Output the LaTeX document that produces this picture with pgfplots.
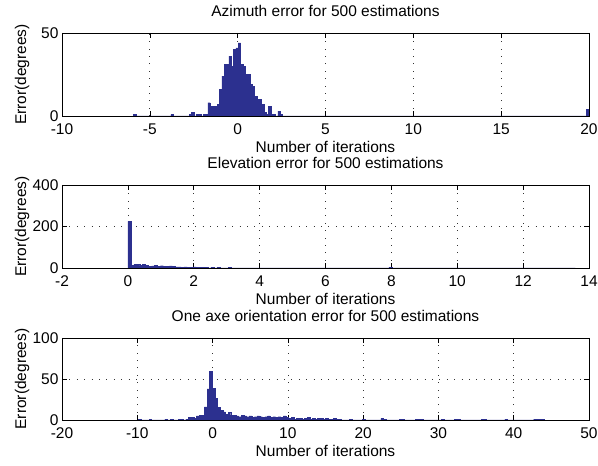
\documentclass[border=0pt]{standalone}
\usepackage{pgfplots}
\pgfplotsset{compat=1.18}
\usepackage{fontspec}
\setmainfont{Liberation Sans}
\definecolor{barfill}{RGB}{44,48,143}
\newcommand{\mfont}{\fontsize{15.5}{18}\selectfont}
\pgfplotsset{
  mpanel/.style={
    scale only axis, width=527pt, anchor=south west,
    axis line style={black, line width=0.7pt},
    xtick pos=both, ytick pos=both, tick align=inside,
    major tick length=5pt, tick style={black, line width=0.6pt},
    grid=major, major grid style={black!80, line width=0.7pt, dash pattern=on 0.8pt off 6.6pt},
    tick label style={font=\mfont},
    xticklabel style={anchor=base, yshift=-19pt},
    title style={font=\mfont, at={(axis description cs:0.5,1)}, anchor=base, yshift=10pt},
    xlabel style={font=\mfont, at={(axis description cs:0.5,0)}, anchor=base, yshift=-37pt},
    ylabel style={font=\mfont, at={(axis description cs:-0.0759,0.5)}, anchor=center},
    xlabel={Number of iterations}, ylabel={Error(degrees)},
  },
  mbars/.style={ybar interval, fill=barfill, draw=barfill, line width=0.4pt},
}
\begin{document}
\begin{tikzpicture}
\path[use as bounding box] (0,0) rectangle (598pt,466pt);
% Panel 1
\begin{axis}[mpanel, at={(62pt,350pt)}, height=83pt,
  xmin=-10, xmax=20, ymin=0, ymax=50,
  xtick={-10,-5,0,5,10,15,20}, xticklabels={-10,-5,0,5,10,15,20},
  ytick={0,50}, yticklabels={0,50},
  title={Azimuth error for 500 estimations}]
\addplot[mbars] coordinates {
(-5.93,1) (-5.797,0) (-3.80,1) (-3.667,0) (-2.763,1) (-2.630,2) (-2.497,0)
(-2.364,1) (-2.231,1) (-2.098,0) (-1.965,1) (-1.832,1) (-1.699,8) (-1.566,6)
(-1.433,6) (-1.300,6) (-1.167,7) (-1.034,16) (-0.901,24) (-0.768,31) (-0.635,31)
(-0.502,36) (-0.369,30) (-0.236,40) (-0.103,41) (0.030,44) (0.163,31) (0.296,30)
(0.429,25) (0.562,25) (0.695,19) (0.828,18) (0.961,12) (1.094,10) (1.227,10)
(1.360,7) (1.493,2) (1.626,1) (1.759,6) (1.892,1) (2.025,1) (2.158,0) (2.291,3)
(2.424,1) (2.557,0) (19.867,4) (20,4)
};
\end{axis}
% Panel 2
\begin{axis}[mpanel, at={(62pt,198pt)}, height=83pt,
  xmin=-2, xmax=14, ymin=0, ymax=400,
  xtick={-2,0,2,4,6,8,10,12,14}, xticklabels={-2,0,2,4,6,8,10,12,14},
  ytick={0,200,400}, yticklabels={0,200,400},
  title={Elevation error for 500 estimations}]
\addplot[mbars] coordinates {
(0,225) (0.09,14) (0.18,18) (0.27,17) (0.36,13) (0.45,16) (0.54,12) (0.63,9)
(0.72,10) (0.81,13) (0.90,8) (0.99,11) (1.08,9) (1.17,7) (1.26,10) (1.35,8)
(1.44,6) (1.53,5) (1.62,4) (1.71,6) (1.80,3) (1.89,4) (1.98,5) (2.07,3) (2.16,2)
(2.25,4) (2.34,2) (2.43,1) (2.52,3) (2.61,1) (2.70,2) (2.79,1) (2.88,0) (3.06,2)
(3.15,1) (3.24,0) (3.60,1) (3.69,0) (4.50,1) (4.59,0) (5.85,1) (5.94,0) (7.92,2)
(8.01,0) (9.90,1) (9.99,0) (12.60,1) (12.69,0) (13.50,1) (13.59,1)
};
\end{axis}
% Panel 3
\begin{axis}[mpanel, at={(62pt,46pt)}, height=82pt,
  xmin=-20, xmax=50, ymin=0, ymax=100,
  xtick={-20,-10,0,10,20,30,40,50}, xticklabels={-20,-10,0,10,20,30,40,50},
  ytick={0,50,100}, yticklabels={0,50,100},
  title={One axe orientation error for 500 estimations}]
\addplot[mbars] coordinates {
(-9.84,1) (-9.49,0) (-8.44,1) (-8.09,0) (-6.34,1) (-5.99,0) (-5.64,1) (-5.29,0)
(-4.59,1) (-4.24,1) (-3.89,0) (-3.54,1) (-3.19,3) (-2.84,3) (-2.49,2) (-2.14,5)
(-1.79,6) (-1.44,6) (-1.09,16) (-0.74,38) (-0.39,59) (-0.04,39) (0.31,26)
(0.66,15) (1.01,12) (1.36,10) (1.71,7) (2.06,9) (2.41,6) (2.76,6) (3.11,5)
(3.46,4) (3.81,6) (4.16,5) (4.51,4) (4.86,5) (5.21,3) (5.56,4) (5.91,5) (6.26,4)
(6.61,3) (6.96,4) (7.31,5) (7.66,3) (8.01,4) (8.36,3) (8.71,4) (9.06,3) (9.41,5)
(9.76,3) (10.11,2) (10.46,3) (10.81,1) (11.16,2) (11.51,2) (11.86,1) (12.21,2)
(12.56,3) (12.91,1) (13.26,2) (13.61,1) (13.96,2) (14.31,2) (14.66,1) (15.01,2)
(15.36,1) (15.71,1) (16.06,2) (16.41,1) (16.76,1) (17.11,0) (18.16,1) (18.51,0)
(19.91,1) (20.26,0) (22.36,2) (22.71,1) (23.06,0) (24.81,1) (25.16,1) (25.51,0)
(26.91,1) (27.26,1) (27.61,1) (27.96,0) (30.41,1) (30.76,0) (32.16,1) (32.51,1)
(32.86,0) (35.66,1) (36.01,1) (36.36,0) (38.81,1) (39.16,0) (42.66,1) (43.01,1)
(43.36,1) (43.71,1) (44.06,1)
};
\end{axis}
\end{tikzpicture}
\end{document}
